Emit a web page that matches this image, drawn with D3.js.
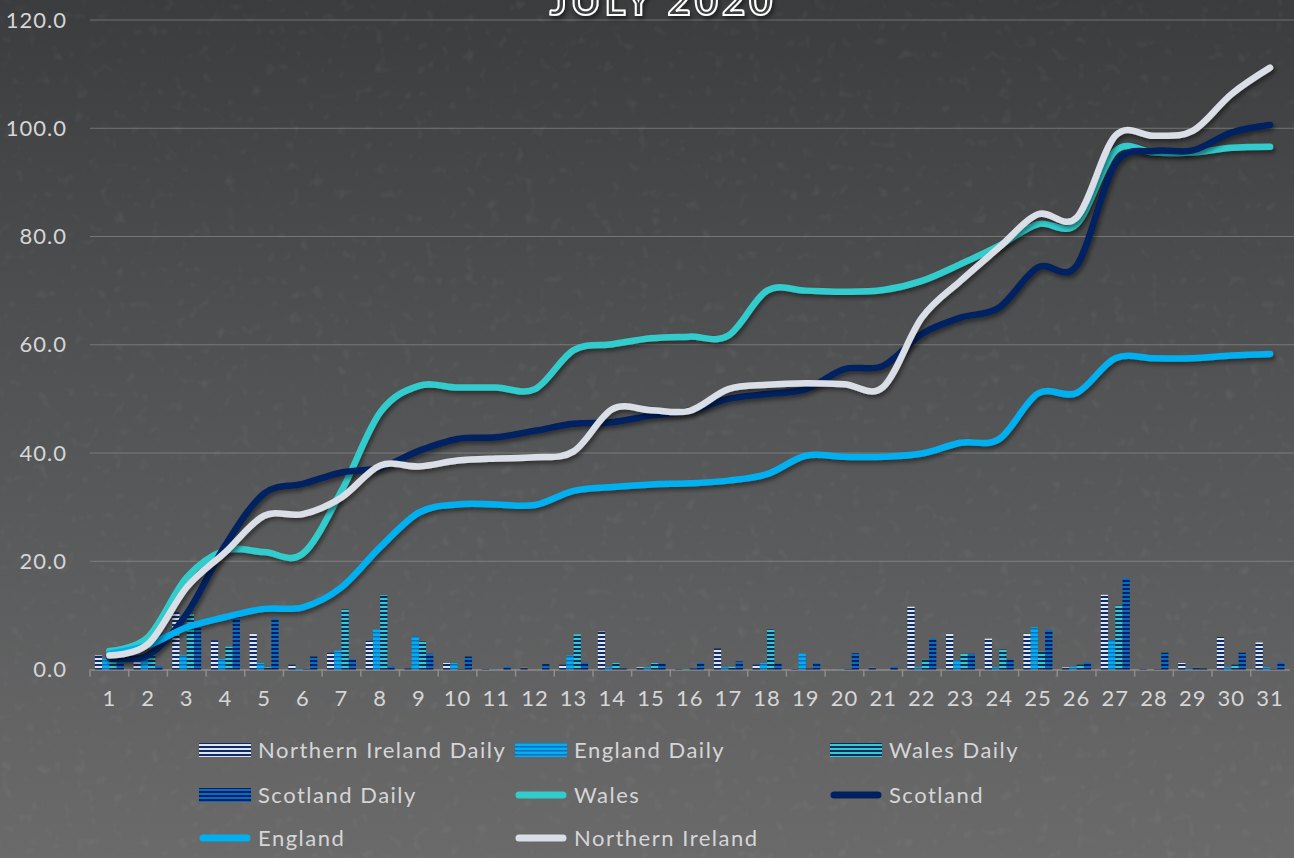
<!DOCTYPE html>
<html>
<head>
<meta charset="utf-8">
<script src="https://d3js.org/d3.v7.min.js"></script>
<style>
  body { margin: 0; background: #4a4a4a; }
  text { font-family: "Lato", "Open Sans", sans-serif; }
</style>
</head>
<body>
<div id="chart"></div>
<script>
// July 2020 - cumulative and daily values by nation

var days = ["1", "2", "3", "4", "5", "6", "7", "8", "9", "10", "11", "12", "13", "14", "15", "16",
  "17", "18", "19", "20", "21", "22", "23", "24", "25", "26", "27", "28", "29", "30", "31"];

var niDaily = [2.6, 1.8, 10.6, 5.4, 6.6, 0.9, 3.1, 5.3, 0.2, 1.2, 0.1, 0.3, 0.9, 7.0, 0.4, 0.1,
  3.9, 0.9, 0.1, 0.0, 0.3, 11.6, 6.6, 5.7, 6.6, 0.4, 13.8, 0.1, 1.2, 6.0, 5.0];
var englandDaily = [2.0, 2.3, 2.6, 1.9, 1.2, 0.2, 3.5, 7.4, 6.2, 1.2, 0.05, 0.0, 2.6, 0.4, 0.4, 0.05,
  0.4, 1.2, 3.0, 0.05, 0.0, 0.4, 1.7, 0.4, 7.8, 0.5, 5.4, 0.0, 0.2, 0.4, 0.4];
var walesDaily = [1.7, 2.6, 10.3, 4.2, 0.4, 0.1, 11.1, 13.7, 5.2, 0.1, 0.0, 0.0, 6.5, 1.2, 1.2, 0.2,
  0.5, 7.4, 0.2, 0.1, 0.0, 1.8, 2.9, 3.7, 3.3, 0.9, 11.8, 0.1, 0.3, 0.9, 0.1];
var scotlandDaily = [1.5, 0.6, 8.0, 9.8, 9.4, 2.4, 1.9, 0.6, 2.9, 2.4, 0.5, 1.0, 1.3, 0.2, 1.1, 1.2,
  1.5, 1.1, 1.2, 3.0, 0.5, 5.7, 2.9, 1.8, 7.3, 1.3, 16.9, 3.1, 0.2, 3.1, 1.3];

var wales = [3.4, 6.0, 17.0, 22.0, 21.7, 21.4, 33.0, 47.5, 52.4, 52.1, 52.1, 51.8, 59.0, 60.1, 61.2, 61.5,
  61.7, 70.0, 70.0, 69.8, 70.1, 71.8, 74.9, 78.3, 82.3, 82.3, 95.8, 95.5, 95.5, 96.4, 96.6];
var scotland = [2.3, 2.6, 10.3, 23.0, 32.5, 34.3, 36.4, 37.3, 40.4, 42.6, 42.9, 44.1, 45.4, 45.7, 46.9, 47.8,
  50.0, 50.9, 51.8, 55.5, 56.1, 62.0, 65.0, 66.9, 74.3, 74.6, 93.4, 95.8, 95.9, 99.2, 100.6];
var england = [2.9, 4.5, 7.8, 9.7, 11.2, 11.5, 15.2, 22.6, 29.0, 30.5, 30.5, 30.4, 33.0, 33.7, 34.2, 34.4,
  34.9, 36.1, 39.5, 39.3, 39.3, 39.9, 41.9, 42.6, 51.0, 51.1, 57.5, 57.5, 57.5, 58.0, 58.3];
var northernIreland = [2.6, 4.7, 15.2, 21.7, 28.4, 28.7, 31.8, 37.7, 37.5, 38.6, 39.0, 39.2, 40.3, 48.1, 47.9, 47.8,
  51.8, 52.6, 52.9, 52.7, 52.2, 65.0, 71.8, 78.0, 84.1, 83.5, 98.6, 98.6, 99.5, 106.3, 111.2];

var yTicks = [0, 20, 40, 60, 80, 100, 120];

var barNames = ["Northern Ireland Daily", "England Daily", "Wales Daily", "Scotland Daily"];
var lineNames = ["Wales", "Scotland", "England", "Northern Ireland"];

// styles
var barFill = ["#dfe3ea", "#00b0f0", "#33cccc", "#0a6cc0"];
var barStripe = ["#0d2b66", "#0a6cc0", "#0b2a60", "#002060"];
var lineColor = ["#33cccc", "#002060", "#00b0f0", "#dadee6"];

var svgWidth = 1294;
var svgHeight = 858;

var margin = { top: 20, left: 90, right: 4.6, bottom: 188.5 };
var width = svgWidth - margin.left - margin.right;
var height = svgHeight - margin.top - margin.bottom;

var svg = d3.select("#chart")
  .append("svg")
  .attr("width", svgWidth)
  .attr("height", svgHeight);

var defs = svg.append("defs");

// background gradient + grain
var grad = defs.append("linearGradient")
  .attr("id", "bg")
  .attr("x1", 0).attr("y1", 0).attr("x2", 0).attr("y2", 1);
grad.append("stop").attr("offset", "0%").attr("stop-color", "#3b3c3d");
grad.append("stop").attr("offset", "45%").attr("stop-color", "#525354");
grad.append("stop").attr("offset", "100%").attr("stop-color", "#6a6a6b");

var grain = defs.append("filter").attr("id", "grain")
  .attr("x", 0).attr("y", 0).attr("width", "100%").attr("height", "100%");
grain.append("feTurbulence")
  .attr("type", "fractalNoise")
  .attr("baseFrequency", "0.08")
  .attr("numOctaves", 2)
  .attr("seed", 7)
  .attr("result", "noise");
grain.append("feColorMatrix")
  .attr("in", "noise")
  .attr("type", "matrix")
  .attr("values", "0 0 0 0 1  0 0 0 0 1  0 0 0 0 1  0 0 0 1.4 -0.85");

var shadow = defs.append("filter").attr("id", "shadow")
  .attr("x", "-5%").attr("y", "-5%").attr("width", "110%").attr("height", "120%");
shadow.append("feDropShadow")
  .attr("dx", 2).attr("dy", 3)
  .attr("stdDeviation", 2)
  .attr("flood-color", "#000")
  .attr("flood-opacity", 0.45);

svg.append("rect")
  .attr("width", svgWidth)
  .attr("height", svgHeight)
  .attr("fill", "url(#bg)");
svg.append("rect")
  .attr("width", svgWidth)
  .attr("height", svgHeight)
  .attr("filter", "url(#grain)")
  .attr("opacity", 0.12);

// striped patterns for the daily bars
barNames.forEach(function(name, i) {
  var p = defs.append("pattern")
    .attr("id", "stripe" + i)
    .attr("patternUnits", "userSpaceOnUse")
    .attr("width", 8)
    .attr("height", 4);
  p.append("rect").attr("width", 8).attr("height", 4).attr("fill", barFill[i]);
  p.append("rect").attr("width", 8).attr("height", i == 1 ? 1.5 : 2).attr("fill", barStripe[i]);
});

var chartGroup = svg.append("g")
  .attr("transform", `translate(${margin.left}, ${margin.top})`);

// scales
var xScale = d3.scaleBand()
  .domain(days)
  .range([0, width])
  .padding(0);

var groupScale = d3.scaleBand()
  .domain(barNames)
  .range([0, xScale.bandwidth()])
  .paddingInner(0)
  .paddingOuter(0.67);

var yScale = d3.scaleLinear()
  .domain([0, 120])
  .range([height, 0]);

// gridlines
chartGroup.append("g")
  .selectAll("line")
  .data(yTicks.slice(1))
  .enter()
  .append("line")
  .attr("x1", 0)
  .attr("x2", width + margin.right)
  .attr("y1", d => yScale(d))
  .attr("y2", d => yScale(d))
  .attr("stroke", "#9a9a9a")
  .attr("stroke-opacity", 0.55)
  .attr("stroke-width", 1);

// y axis labels
var leftAxis = d3.axisLeft(yScale)
  .tickValues(yTicks)
  .tickFormat(d3.format(".1f"))
  .tickSize(0)
  .tickPadding(23);

var yAxis = chartGroup.append("g").call(leftAxis);
yAxis.select(".domain").remove();
yAxis.selectAll("text")
  .attr("fill", "#d6d6d6")
  .attr("font-size", "22px")
  .attr("letter-spacing", "1px");

// x axis
var bottomAxis = d3.axisBottom(xScale)
  .tickSize(0)
  .tickPadding(21);

var xAxis = chartGroup.append("g")
  .attr("transform", `translate(0, ${height})`)
  .call(bottomAxis);
xAxis.select(".domain")
  .attr("stroke", "#8e8e8e")
  .attr("stroke-width", 1.5);
xAxis.selectAll("text")
  .attr("fill", "#d6d6d6")
  .attr("font-size", "22px")
  .attr("letter-spacing", "1px");

// band boundary ticks
chartGroup.append("g")
  .selectAll("line")
  .data(days)
  .enter()
  .append("line")
  .attr("x1", d => xScale(d))
  .attr("x2", d => xScale(d))
  .attr("y1", height)
  .attr("y2", height + 7)
  .attr("stroke", "#8e8e8e")
  .attr("stroke-width", 1.5);

// bars
var dailySeries = [niDaily, englandDaily, walesDaily, scotlandDaily];

var dayGroups = chartGroup.selectAll(".day")
  .data(days)
  .enter()
  .append("g")
  .attr("class", "day")
  .attr("transform", d => `translate(${xScale(d)}, 0)`);

dayGroups.selectAll("rect")
  .data((d, i) => barNames.map((name, k) => ({ name: name, k: k, value: dailySeries[k][i] })))
  .enter()
  .append("rect")
  .attr("x", d => groupScale(d.name))
  .attr("y", d => yScale(d.value))
  .attr("width", groupScale.bandwidth())
  .attr("height", d => height - yScale(d.value))
  .attr("fill", d => `url(#stripe${d.k})`);

// cumulative lines
var lineSeries = [wales, scotland, england, northernIreland];

var line = d3.line()
  .x((d, i) => xScale(days[i]) + xScale.bandwidth() / 2)
  .y(d => yScale(d))
  .curve(d3.curveCardinal.tension(0));

lineSeries.forEach(function(values, i) {
  chartGroup.append("path")
    .datum(values)
    .attr("d", line)
    .attr("fill", "none")
    .attr("stroke", lineColor[i])
    .attr("stroke-width", 6.5)
    .attr("stroke-linecap", "round")
    .attr("stroke-linejoin", "round")
    .attr("filter", "url(#shadow)");
});

// title (cropped by the top edge, as in the original)
svg.append("text")
  .attr("x", 663)
  .attr("y", 15)
  .attr("text-anchor", "middle")
  .attr("font-size", "40px")
  .attr("font-weight", "bold")
  .attr("letter-spacing", "4px")
  .attr("fill", "#3c3d3e")
  .attr("stroke", "#ffffff")
  .attr("stroke-width", 2)
  .attr("filter", "url(#shadow)")
  .text("JULY 2020");

// legend
var legendCols = [199, 515, 830];
var legendRows = [750, 795, 838];

var legendItems = barNames.map((n, i) => ({ name: n, type: "bar", k: i }))
  .concat(lineNames.map((n, i) => ({ name: n, type: "line", k: i })));

var legend = svg.append("g")
  .selectAll("g")
  .data(legendItems)
  .enter()
  .append("g")
  .attr("transform", (d, i) => `translate(${legendCols[i % 3]}, ${legendRows[Math.floor(i / 3)]})`);

legend.filter(d => d.type == "bar")
  .append("rect")
  .attr("x", 0)
  .attr("y", -7)
  .attr("width", 52)
  .attr("height", 14)
  .attr("fill", d => `url(#stripe${d.k})`);

legend.filter(d => d.type == "line")
  .append("line")
  .attr("x1", 4)
  .attr("x2", 48)
  .attr("y1", 0)
  .attr("y2", 0)
  .attr("stroke", d => lineColor[d.k])
  .attr("stroke-width", 7)
  .attr("stroke-linecap", "round");

legend.append("text")
  .attr("x", 59)
  .attr("y", 0)
  .attr("dy", "0.35em")
  .attr("fill", "#d6d6d6")
  .attr("font-size", "22px")
  .attr("letter-spacing", "1.5px")
  .text(d => d.name);
</script>
</body>
</html>
